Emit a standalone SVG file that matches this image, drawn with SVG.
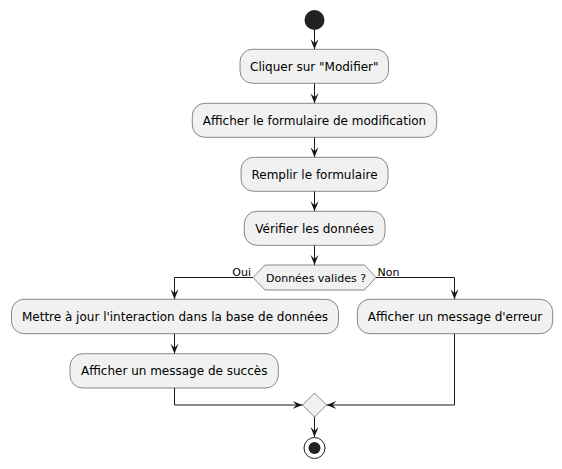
<svg xmlns="http://www.w3.org/2000/svg" width="562" height="469" viewBox="0 0 562 469">
<defs>
<style>
.box{fill:#F1F1F1;stroke:#181818;stroke-width:0.5}
.t{font-family:"DejaVu Sans",sans-serif;font-size:12px;fill:#000;text-anchor:middle}
.s{font-family:"DejaVu Sans",sans-serif;font-size:11px;fill:#000}
.c{fill:none;stroke:#181818;stroke-width:1}
</style>
<marker id="arr" markerUnits="userSpaceOnUse" markerWidth="12" markerHeight="10" refX="10" refY="4" orient="auto">
<path d="M0,0 L10,4 L0,8 L4,4 Z" fill="#181818"/>
</marker>
</defs>
<rect width="562" height="469" fill="#FFFFFF"/>
<g id="connectors">
<path class="c" d="M314.5,30 V49.3" marker-end="url(#arr)"/>
<path class="c" d="M314.5,83.3 V103.3" marker-end="url(#arr)"/>
<path class="c" d="M314.5,137.3 V157.3" marker-end="url(#arr)"/>
<path class="c" d="M314.5,191.3 V211.3" marker-end="url(#arr)"/>
<path class="c" d="M314.5,245.3 V265" marker-end="url(#arr)"/>
<path class="c" d="M253,277.5 H174.5 V299.3" marker-end="url(#arr)"/>
<path class="c" d="M376,277.5 H454.5 V299.3" marker-end="url(#arr)"/>
<path class="c" d="M174.5,333.7 V353.7" marker-end="url(#arr)"/>
<path class="c" d="M174.5,388 V405 H302.5" marker-end="url(#arr)"/>
<path class="c" d="M454.5,333.7 V405 H326.5" marker-end="url(#arr)"/>
<path class="c" d="M314.5,417 V437" marker-end="url(#arr)"/>
<text class="s" x="251" y="275.5" text-anchor="end">Oui</text>
<text class="s" x="377.5" y="275.5">Non</text>
</g>
<g id="start"><circle cx="314.5" cy="20" r="10" fill="#222222"/></g>
<g id="n1"><rect class="box" x="240" y="49.3" width="148.5" height="34" rx="12.5"/><text class="t" x="314.3" y="70.8">Cliquer sur "Modifier"</text></g>
<g id="n2"><rect class="box" x="192.3" y="103.3" width="244.4" height="34" rx="12.5"/><text class="t" x="314.5" y="124.8">Afficher le formulaire de modification</text></g>
<g id="n3"><rect class="box" x="241" y="157.3" width="147" height="34" rx="12.5"/><text class="t" x="314.5" y="178.8">Remplir le formulaire</text></g>
<g id="n4"><rect class="box" x="244.3" y="211.3" width="140.7" height="34" rx="12.5"/><text class="t" x="314.6" y="232.8">Vérifier les données</text></g>
<g id="decision"><polygon class="box" points="253,277.5 265,265 364.5,265 376,277.5 364.5,290 265,290"/><text class="s" x="316" y="281.5" text-anchor="middle">Données valides ?</text></g>
<g id="n5"><rect class="box" x="11.5" y="299.3" width="327" height="34.4" rx="12.5"/><text class="t" x="175" y="321">Mettre à jour l'interaction dans la base de données</text></g>
<g id="n6"><rect class="box" x="70" y="353.7" width="208.3" height="34.3" rx="12.5"/><text class="t" x="174.2" y="375.3">Afficher un message de succès</text></g>
<g id="n7"><rect class="box" x="357.3" y="299.3" width="195.4" height="34.4" rx="12.5"/><text class="t" x="455" y="321">Afficher un message d'erreur</text></g>
<g id="merge"><polygon class="box" points="302.5,405 314.5,393 326.5,405 314.5,417"/></g>
<g id="end"><circle cx="314.5" cy="448" r="10.5" fill="none" stroke="#222222" stroke-width="1"/><circle cx="314.5" cy="448" r="6" fill="#222222"/></g>
</svg>
